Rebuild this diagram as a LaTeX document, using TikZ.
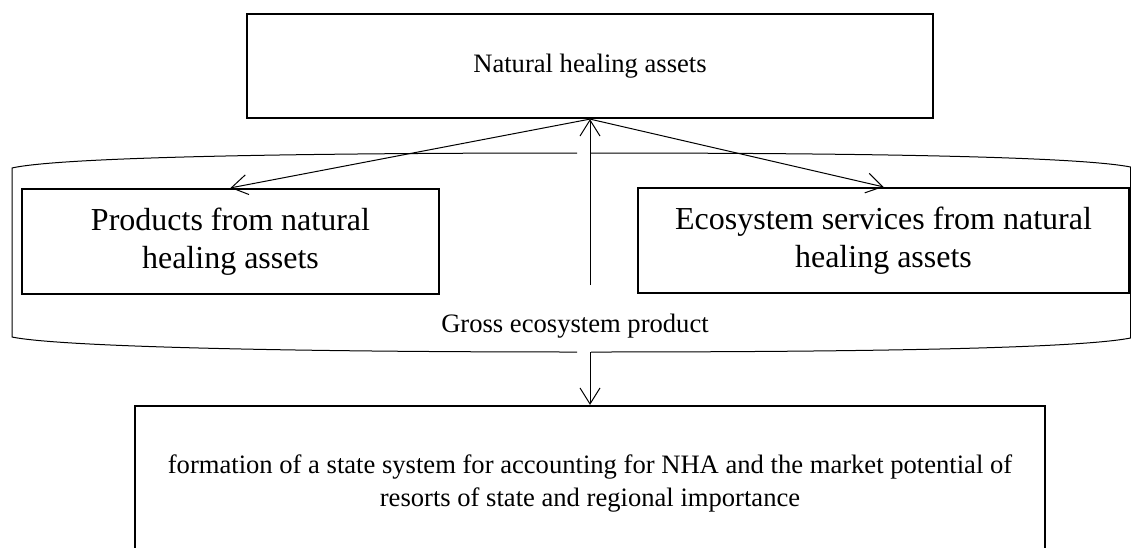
\documentclass[tikz,border=0pt]{standalone}
\usepackage{fontspec}
\setmainfont{Liberation Serif}
\usetikzlibrary{arrows.meta}
\usetikzlibrary{positioning}

\begin{document}
\begin{tikzpicture}[->,>={Straight Barb[length=8pt,width=10pt]},x=0.5pt,y=-0.5pt,
                    line width=0.5pt,
                    main node/.style={rectangle,draw,line width=1.1pt,align=center,inner sep=0pt,
                                      font=\fontsize{13.3}{16.5}\selectfont},
                    big node/.style={main node,font=\fontsize{16}{19}\selectfont}]

  \useasboundingbox (0,0) rectangle (1131,547);
  \clip (0,0) rectangle (1131,547);

  \node[main node,minimum width=343pt,minimum height=52pt] (assets) at (590,66) {Natural healing assets};
  \node[big node,minimum width=208.5pt,minimum height=52.5pt] (products) at (230.5,241.5)
    {Products from natural\\healing assets};
  \node[big node,minimum width=245.5pt,minimum height=52.5pt] (services) at (883.5,240.5)
    {Ecosystem services from natural\\healing assets};
  \node[main node,minimum width=455pt,minimum height=77pt] (result) at (590,483)
    {formation of a state system for accounting for NHA and the market potential of\\
     resorts of state and regional importance};
  \node[font=\fontsize{13.3}{16}\selectfont] (gep) at (575,326) {Gross ecosystem product};

  \coordinate (up) at (590,285);
  \coordinate (down) at (590,352);

  % bracket round the two products
  \draw[-] (577,153) .. controls (300,153) and (60,157) .. (12,168) -- (12,337)
           .. controls (60,347) and (300,352) .. (577,352);
  \draw[-] (591,153) .. controls (880,153) and (1080,157) .. (1130.5,167) -- (1130.5,338)
           .. controls (1080,348) and (880,352) .. (591,352);

  \path
    (up) edge (assets)
    (assets.south) edge (products.north)
    (assets.south) edge (services.north)
    (down) edge (result)
;
\end{tikzpicture}
\end{document}
